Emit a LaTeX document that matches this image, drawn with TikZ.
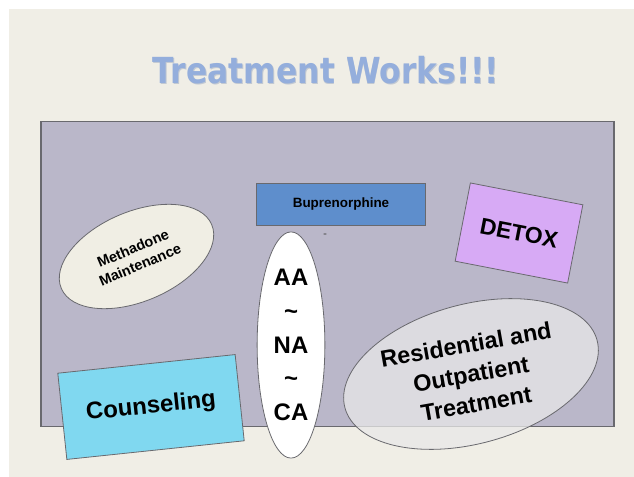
\documentclass[tikz,border=0pt]{standalone}
\usepackage{fontspec}
\setmainfont{Liberation Sans}
\newfontfamily\titlefont{DejaVu Sans}
\usetikzlibrary{shapes.geometric}
\definecolor{bgbeige}{RGB}{240,238,230}
\definecolor{panelc}{RGB}{186,183,201}
\definecolor{edgec}{RGB}{105,105,110}
\definecolor{titlec}{RGB}{148,174,220}
\definecolor{titlesh}{RGB}{110,132,175}
\definecolor{methc}{RGB}{240,238,228}
\definecolor{bupc}{RGB}{94,142,204}
\definecolor{detoxc}{RGB}{215,170,245}
\definecolor{counc}{RGB}{128,216,240}
\definecolor{resc}{RGB}{232,232,232}
\tikzset{
  shapebox/.style={draw=edgec, line width=0.8bp, inner sep=0, font=\bfseries, align=center},
  ovalbox/.style={shapebox, ellipse},
  titletext/.style={font=\titlefont\bfseries\fontsize{36}{40}\selectfont, inner sep=0}
}
\begin{document}
\begin{tikzpicture}[x=1bp,y=1bp]
\useasboundingbox (0,0) rectangle (634,-477);
\fill[white] (0,0) rectangle (634,-477);
\fill[bgbeige] (9,-9) rectangle (634,-477);
% title
\node[titletext, text=titlesh, opacity=0.35] (titlesh) at (326.8,-70.8) {\scalebox{0.875}[1]{Treatment Works!!!}};
\node[titletext, text=titlec] (title) at (326,-70) {\scalebox{0.875}[1]{Treatment Works!!!}};
% panel
\node[draw=edgec, line width=1.2bp, fill=panelc, minimum width=575, minimum height=306, inner sep=0] (panel) at (327.5,-274) {};
% methadone
\node[ovalbox, fill=methc, minimum width=164, minimum height=90, rotate=23, font=\bfseries\fontsize{14.5}{18}\selectfont] (meth) at (136.5,-256.5) {Methadone\\Maintenance};
% buprenorphine
\node[shapebox, fill=bupc, minimum width=170, minimum height=42, font=\bfseries\fontsize{13.5}{15}\selectfont] (bup) at (341,-204) {Buprenorphine};
\node[ellipse, fill=edgec, minimum width=4, minimum height=1.6, inner sep=0] (mark) at (325,-234) {};
% detox
\node[shapebox, fill=detoxc, minimum width=115, minimum height=80, rotate=-11, font=\bfseries\fontsize{23}{26}\selectfont] (detox) at (519,-233) {DETOX};
% counseling
\node[shapebox, fill=counc, minimum width=179, minimum height=87, rotate=6, font=\bfseries\fontsize{24}{28}\selectfont] (coun) at (151,-407) {Counseling};
% AA NA CA
\node[ovalbox, fill=white, minimum width=68, minimum height=227, font=\bfseries\fontsize{24}{34}\selectfont] (aa) at (291,-345) {AA\\\textasciitilde\\NA\\\textasciitilde\\CA};
% residential
\node[ovalbox, fill=resc, fill opacity=0.75, minimum width=262, minimum height=140, rotate=15] (res) at (471,-374) {};
\node[font=\bfseries\fontsize{23.5}{30}\selectfont, align=center, rotate=10, inner sep=0] (restext) at (res.center) {Residential and\\Outpatient\\Treatment};
\end{tikzpicture}
\end{document}
